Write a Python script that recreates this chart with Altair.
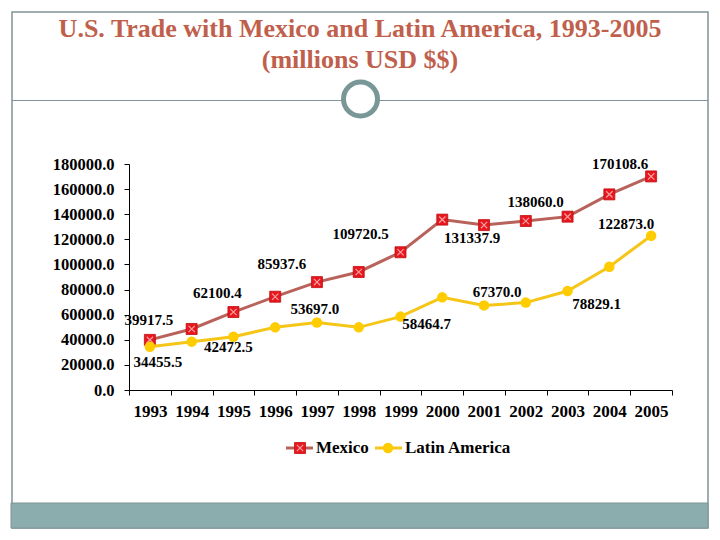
import altair as alt
import pandas as pd

# ---------------- data ----------------
years = ["1993", "1994", "1995", "1996", "1997", "1998", "1999",
         "2000", "2001", "2002", "2003", "2004", "2005"]
mexico = [39917.5, 48600.0, 62100.4, 74300.0, 85937.6, 94000.0, 109720.5,
          135700.0, 131337.9, 134600.0, 138060.0, 155800.0, 170108.6]
latin_america = [34455.5, 38500.0, 42472.5, 49900.0, 53697.0, 49900.0, 58464.7,
                 73800.0, 67370.0, 69600.0, 78829.1, 98200.0, 122873.0]
series_names = ["Mexico", "Latin America"]
labeled_years = ["1993", "1995", "1997", "1999", "2001", "2003", "2005"]
y_ticks = [0, 20000, 40000, 60000, 80000, 100000, 120000, 140000, 160000, 180000]
title_lines = ["U.S. Trade with Mexico and Latin America, 1993-2005",
               "(millions USD $$)"]

df = pd.DataFrame({
    "year": years + years,
    "series": [series_names[0]] * len(years) + [series_names[1]] * len(years),
    "value": mexico + latin_america,
})

# ---------------- styles ----------------
FONT = "Liberation Serif"
MEX_LINE = "#B9625B"
MEX_FILL = "#E8161E"
LA_LINE = "#F5C518"
LA_FILL = "#FFCC00"
SLIDE = "#7F9495"
TEAL = "#8BADAD"
TITLE_COLOR = "#C0604C"

# label offsets (dx, dy) relative to each labelled point
offsets = {
    "Mexico": [(-1, -20), (-16, -19), (-35, -18), (-40, -18), (-12, 13), (-32, -15), (-31, -12)],
    "Latin America": [(8, 15), (-5, 10), (-2, -14), (26, 7), (13, -13), (29, 13), (-25, -12)],
}

one = pd.DataFrame({"a": [0]})

x_enc = alt.X(
    "year:O", sort=years,
    scale=alt.Scale(type="band", domain=years, paddingInner=0, paddingOuter=0),
    axis=alt.Axis(title=None, labelAngle=0, tickBand="extent", tickSize=5,
                  labelPadding=8, domainColor="black", tickColor="black",
                  labelFont=FONT, labelFontWeight="bold", labelFontSize=17,
                  labelColor="black", grid=False, zindex=1),
)
y_enc = alt.Y(
    "value:Q",
    scale=alt.Scale(domain=[0, 180000], nice=False, zero=True),
    axis=alt.Axis(title=None, values=y_ticks, format=".1f", grid=False,
                  tickSize=5, labelPadding=10, domainColor="black", tickColor="black",
                  labelFont=FONT, labelFontWeight="bold", labelFontSize=16.5,
                  labelColor="black", zindex=1),
)

layers = []

# slide decorations
layers.append(alt.Chart(one).mark_rect(fill="transparent", stroke=SLIDE, strokeWidth=1.5).encode(
    x=alt.value(-117), x2=alt.value(579), y=alt.value(-152), y2=alt.value(364)))
layers.append(alt.Chart(one).mark_rect(fill=TEAL, stroke=SLIDE, strokeWidth=1).encode(
    x=alt.value(-118), x2=alt.value(579), y=alt.value(339), y2=alt.value(364)))
layers.append(alt.Chart(one).mark_rule(color=SLIDE, strokeWidth=1.2).encode(
    x=alt.value(-117), x2=alt.value(579), y=alt.value(-63.5)))
layers.append(alt.Chart(one).mark_point(shape="circle", filled=False, fill="white",
                                        fillOpacity=1, stroke="#7A9797", strokeWidth=5,
                                        size=1156, opacity=1).encode(
    x=alt.value(231.5), y=alt.value(-65)))

# title
for line, yy in zip(title_lines, [-127.5, -96.5]):
    layers.append(alt.Chart(one).mark_text(font=FONT, fontWeight="bold", fontSize=26,
                                           color=TITLE_COLOR, align="center",
                                           baseline="alphabetic").encode(
        x=alt.value(231), y=alt.value(yy), text=alt.value(line)))

# Mexico series
mex = alt.Chart(df).transform_filter(alt.datum.series == series_names[0])
layers.append(mex.mark_line(color=MEX_LINE, strokeWidth=3).encode(x=x_enc, y=y_enc))
layers.append(mex.mark_point(shape="square", filled=True, fill=MEX_FILL, stroke="#C01010",
                             strokeWidth=0.8, size=121, opacity=1).encode(x=x_enc, y=y_enc))
layers.append(mex.mark_point(shape="M-1,-1L1,1M1,-1L-1,1", filled=False, stroke="#F6A0A0",
                             strokeWidth=1.2, size=40, opacity=1).encode(x=x_enc, y=y_enc))

# Latin America series
la = alt.Chart(df).transform_filter(alt.datum.series == series_names[1])
layers.append(la.mark_line(color=LA_LINE, strokeWidth=3).encode(x=x_enc, y=y_enc))
layers.append(la.mark_point(shape="circle", filled=True, fill=LA_FILL, size=110,
                            opacity=1, strokeWidth=0).encode(x=x_enc, y=y_enc))

# data labels
for s in series_names:
    for yr, (dx, dy) in zip(labeled_years, offsets[s]):
        layers.append(
            alt.Chart(df)
            .transform_filter((alt.datum.series == s) & (alt.datum.year == yr))
            .mark_text(font=FONT, fontWeight="bold", fontSize=15, color="black",
                       align="center", baseline="middle", dx=dx, dy=dy)
            .encode(x=x_enc, y=y_enc, text=alt.Text("value:Q", format=".1f"))
        )

# legend (drawn manually)
LY = 284
layers.append(alt.Chart(one).mark_rule(color=MEX_LINE, strokeWidth=3).encode(
    x=alt.value(157), x2=alt.value(184), y=alt.value(LY)))
layers.append(alt.Chart(one).mark_point(shape="square", filled=True, fill=MEX_FILL,
                                        stroke="#C01010", strokeWidth=0.8, size=121,
                                        opacity=1).encode(x=alt.value(171), y=alt.value(LY)))
layers.append(alt.Chart(one).mark_point(shape="M-1,-1L1,1M1,-1L-1,1", filled=False,
                                        stroke="#F6A0A0", strokeWidth=1.2, size=40,
                                        opacity=1).encode(x=alt.value(171), y=alt.value(LY)))
layers.append(alt.Chart(one).mark_text(font=FONT, fontWeight="bold", fontSize=17,
                                       color="black", align="left", baseline="middle").encode(
    x=alt.value(187), y=alt.value(LY), text=alt.value(series_names[0])))
layers.append(alt.Chart(one).mark_rule(color=LA_LINE, strokeWidth=3).encode(
    x=alt.value(246), x2=alt.value(273), y=alt.value(LY)))
layers.append(alt.Chart(one).mark_point(shape="circle", filled=True, fill=LA_FILL, size=110,
                                        opacity=1, strokeWidth=0).encode(
    x=alt.value(259), y=alt.value(LY)))
layers.append(alt.Chart(one).mark_text(font=FONT, fontWeight="bold", fontSize=17,
                                       color="black", align="left", baseline="middle").encode(
    x=alt.value(276), y=alt.value(LY), text=alt.value(series_names[1])))

chart = (
    alt.layer(*layers)
    .properties(width=543, height=226,
                padding={"left": 121, "top": 156, "right": 40, "bottom": 142},
                autosize=alt.AutoSizeParams(type="none"),
                background="white")
    .configure_view(stroke=None)
)

chart.save("out.html", embed_options={"renderer": "svg", "actions": False})
